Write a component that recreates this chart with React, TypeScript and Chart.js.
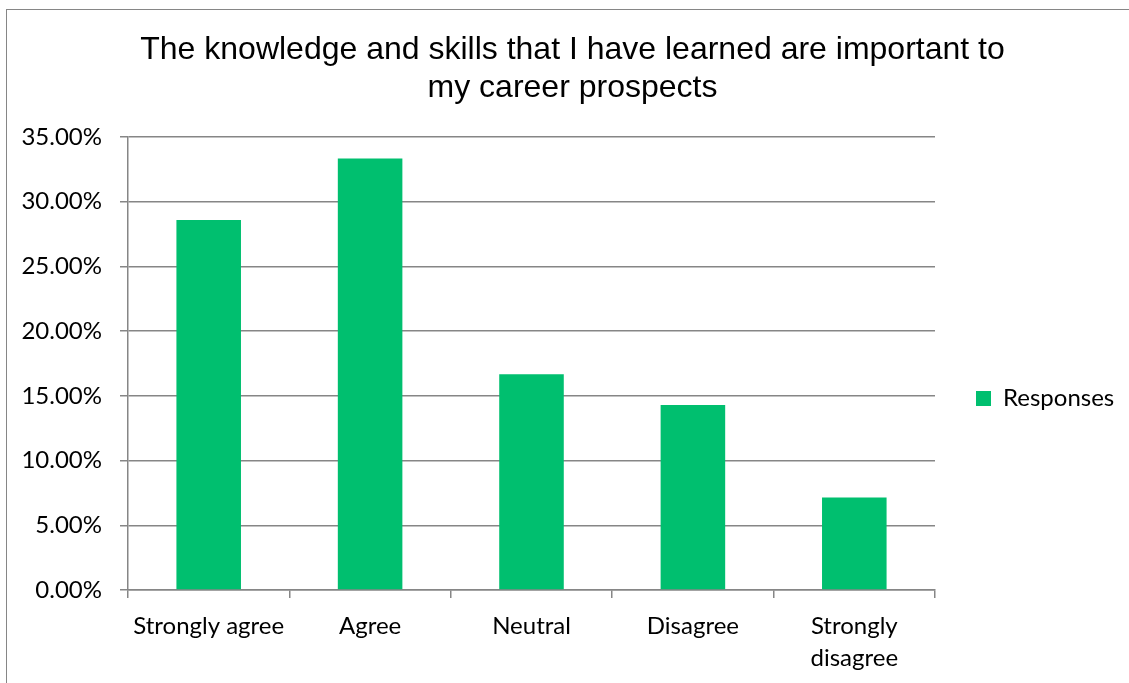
import React, { useEffect, useRef } from 'react';
import { Chart, registerables } from 'chart.js';

Chart.register(...registerables);

// ---- data ----
const categories: (string | string[])[] = ['Strongly agree', 'Agree', 'Neutral', 'Disagree', ['Strongly', 'disagree']];
const responses: number[] = [28.57, 33.33, 16.67, 14.29, 7.14];
const seriesName = 'Responses';
const titleLines: string[] = ['The knowledge and skills that I have learned are important to', 'my career prospects'];
const yMin = 0;
const yMax = 35;
const yStep = 5;

// ---- style ----
const GREEN = '#00BF6F';
const GRID = '#868686';
const TEXT = '#000000';
const LABEL_FONT = 'Lato, "Open Sans", sans-serif';
const TITLE_FONT = '"Liberation Sans", Arial, sans-serif';
const CANVAS_W = 1131;
const CANVAS_H = 777;
const LEGEND_W = 203;

const legendWidthPlugin = {
  id: 'legendWidth',
  afterInit(chart: any) {
    const lg = chart.legend;
    if (!lg) return;
    const orig = lg.fit.bind(lg);
    lg.fit = () => {
      orig();
      lg.width = LEGEND_W;
    };
  },
};

export default function App() {
  const ref = useRef<HTMLCanvasElement>(null);

  useEffect(() => {
    let chart: Chart | null = null;
    let cancelled = false;
    const build = () => {
      if (cancelled || !ref.current) return;
      chart = new Chart(ref.current, {
        type: 'bar',
        data: {
          labels: categories,
          datasets: [
            {
              label: seriesName,
              data: responses,
              backgroundColor: GREEN,
              borderWidth: 0,
              barPercentage: 0.4,
              categoryPercentage: 1,
            },
          ],
        },
        options: {
          responsive: false,
          animation: false,
          devicePixelRatio: 1,
          layout: { padding: 0 },
          plugins: {
            title: {
              display: true,
              text: titleLines,
              color: TEXT,
              font: { family: TITLE_FONT, size: 32, weight: 'normal', lineHeight: 1.2 },
              padding: { top: 21, bottom: 29 },
            },
            legend: {
              position: 'right',
              labels: {
                boxWidth: 15,
                boxHeight: 15,
                padding: 41,
                color: TEXT,
                font: { family: LABEL_FONT, size: 24, lineHeight: 1 },
              },
            },
            tooltip: { enabled: false },
          },
          scales: {
            x: {
              grid: {
                offset: true,
                drawOnChartArea: false,
                tickLength: 8,
                color: GRID,
                lineWidth: 1.5,
              },
              border: { color: GRID, width: 1.5 },
              ticks: {
                color: TEXT,
                font: { family: LABEL_FONT, size: 24, lineHeight: '32px' },
                padding: 12,
                maxRotation: 0,
                autoSkip: false,
              },
              afterFit: (s: any) => {
                s.height = 197;
              },
            },
            y: {
              min: yMin,
              max: yMax,
              grid: { color: GRID, lineWidth: 1.5, tickLength: 8 },
              border: { color: GRID, width: 1.5 },
              ticks: {
                stepSize: yStep,
                color: TEXT,
                font: { family: LABEL_FONT, size: 24 },
                padding: 18,
                callback: (v: any) => Number(v).toFixed(2) + '%',
              },
              afterFit: (s: any) => {
                s.width = 121;
              },
            },
          },
        },
        plugins: [legendWidthPlugin],
      } as any);
    };
    const fontsReady = (document as any).fonts
      ? Promise.all([
          (document as any).fonts.load('24px Lato'),
          (document as any).fonts.load('32px "Liberation Sans"'),
        ])
      : Promise.resolve();
    fontsReady.then(build, build);
    return () => {
      cancelled = true;
      if (chart) chart.destroy();
    };
  }, []);

  return (
    <div
      style={{
        position: 'fixed',
        left: 0,
        top: 0,
        width: 1129,
        height: 683,
        overflow: 'hidden',
        background: '#fff',
      }}
    >
      <div
        style={{
          position: 'absolute',
          left: 6,
          top: 9,
          width: 1200,
          height: 800,
          border: `1px solid ${GRID}`,
        }}
      >
        <canvas
          ref={ref}
          width={CANVAS_W}
          height={CANVAS_H}
          style={{ position: 'absolute', left: 0, top: 0, display: 'block' }}
        />
      </div>
    </div>
  );
}
